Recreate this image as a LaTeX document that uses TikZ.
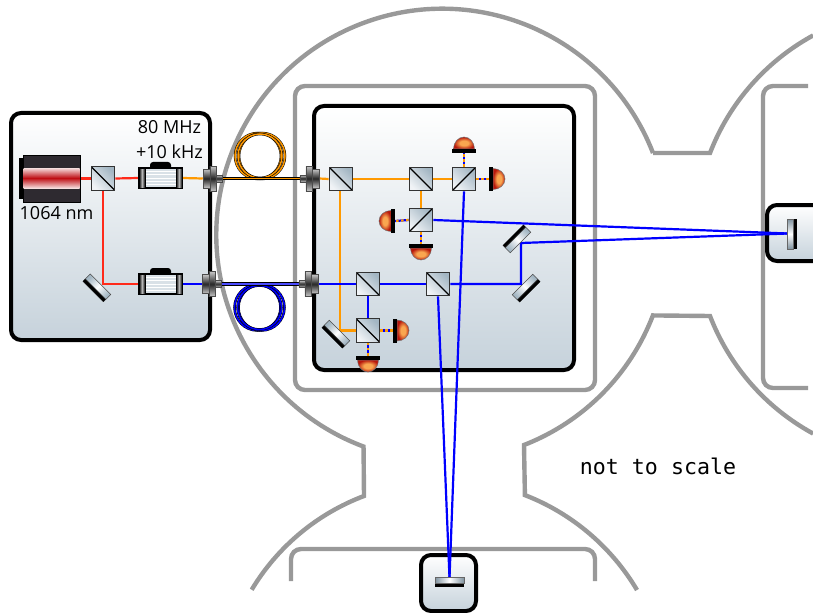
\documentclass[tikz,border=0pt]{standalone}
\usepackage{fontspec}
\setmainfont{Open Sans}
\newfontfamily\monofam{DejaVu Sans Mono}
\usetikzlibrary{calc}
\pgfdeclarelayer{backlayer}
\pgfdeclarelayer{beamlayer}
\pgfsetlayers{backlayer,beamlayer,main}
\def\pxu{*0.75pt}
\definecolor{vac}{HTML}{999999}
\definecolor{boxlow}{HTML}{C6D2DB}
\definecolor{cubelow}{HTML}{F0F3F6}
\definecolor{cubehigh}{HTML}{A3B6C3}
\definecolor{glassend}{HTML}{7F929F}
\definecolor{beamred}{HTML}{FF2A1A}
\definecolor{beamorange}{HTML}{FF9900}
\definecolor{beamblue}{HTML}{0000FF}
\definecolor{bodydark}{HTML}{2E2A30}
\definecolor{laserred}{HTML}{BE0E14}
\definecolor{laserpale}{HTML}{F6DEDE}
\definecolor{domein}{HTML}{F9A650}
\definecolor{domeout}{HTML}{B8180C}
\pgfdeclareradialshading{domeshade}{\pgfpoint{0bp}{0bp}}{
  color(0bp)=(domein); color(10bp)=(domein); color(25bp)=(domeout); color(50bp)=(domeout)}
\tikzset{
  vacline/.style={draw=vac,line width=4.4\pxu},
  panel/.style={draw=black,line width=4\pxu,rounded corners=10\pxu,top color=white,bottom color=boxlow,inner sep=0pt},
  cubeA/.style={draw=black!80,line width=1.2\pxu,minimum size=23.5\pxu,inner sep=0pt,top color=cubelow,bottom color=cubehigh,shading angle=135,
    path picture={\draw[black,line width=1.1\pxu] (path picture bounding box.north west)--(path picture bounding box.south east);}},
  cubeB/.style={draw=black!80,line width=1.2\pxu,minimum size=23.5\pxu,inner sep=0pt,top color=cubelow,bottom color=cubehigh,shading angle=135,
    path picture={\draw[black,line width=1.1\pxu] (path picture bounding box.south west)--(path picture bounding box.north east);}},
  glass/.style={draw=black!70,line width=.6\pxu,minimum width=29\pxu,minimum height=7\pxu,inner sep=0pt,top color=cubehigh,bottom color=cubehigh,middle color=white},
  mirrorback/.style={fill=black,draw=black,line width=.2\pxu,minimum width=29\pxu,minimum height=3\pxu,inner sep=0pt,anchor=north},
  beamR/.style={draw=beamred,line width=2.2\pxu},
  beamO/.style={draw=beamorange,line width=2.2\pxu},
  beamB/.style={draw=beamblue,line width=2.2\pxu},
  beamduo/.style={draw=beamblue,line width=2.2\pxu,postaction={draw=beamorange,line width=2.2\pxu,dash pattern=on 1.9pt off 1.9pt}},
  aombody/.style={draw=black,line width=1.5\pxu,minimum width=43\pxu,minimum height=20\pxu,inner sep=0pt,fill=cubelow!70!cubehigh,
    path picture={\foreach \k in {0.18,0.34,0.5,0.66,0.82}{\draw[white,line width=.9\pxu] ($(path picture bounding box.south west)!\k!(path picture bounding box.north west)$)--($(path picture bounding box.south east)!\k!(path picture bounding box.north east)$);}}},
  aomend/.style={draw=black,line width=.8\pxu,minimum width=6\pxu,minimum height=20\pxu,inner sep=0pt,left color=black,right color=black,middle color=black!25},
  aomcap/.style={fill=black,rounded corners=3\pxu,minimum width=21\pxu,minimum height=10\pxu,inner sep=0pt},
  plate/.style={draw=black!70,line width=.5\pxu,inner sep=0pt,top color=black!22,bottom color=black!22,middle color=black!85},
  fibrecase/.style={draw=black,line width=3.6\pxu},
  label/.style={inner sep=0pt,anchor=base,font=\fontsize{13.5pt}{15pt}\selectfont},
  pics/detector/.style={code={
    \path[shade,shading=domeshade,draw=black!55,line width=.5\pxu] (-10.5,-4) arc[start angle=180,end angle=360,x radius=10.5,y radius=12] -- cycle;
    \fill[black] (-12,-4) rectangle (12,0);
    \coordinate (-in) at (0,0);
  }}
}
\newcommand{\coupler}[4]{% name, x of outer plate, y, direction
  \node[plate,minimum width=7\pxu,minimum height=19\pxu] (#1a) at (#2,#3) {};
  \node[plate,minimum width=6.5\pxu,minimum height=25\pxu] (#1b) at (#2+#4*6.5,#3) {};
  \node[plate,minimum width=6.5\pxu,minimum height=7\pxu] (#1) at (#2+#4*12.5,#3) {};
}
\newcommand{\mirror}[5]{% name, x, y, rotation, shading angle
  \node[glass,rotate=#4,shading angle=#5] (#1) at (#2,#3) {};
  \node[mirrorback,rotate=#4] at (#1.south) {};
}
\newcommand{\aom}[3]{% name, x, y
  \node[aomcap] (#1cap) at (#2,#3-11) {};
  \node[aombody] (#1) at (#2,#3) {};
  \node[aomend] at (#2-18.5,#3) {};
  \node[aomend] at (#2+18.5,#3) {};
}
\begin{document}
\begin{tikzpicture}[x=0.75pt,y=-0.75pt]
\useasboundingbox (0,0) rectangle (813,613);
\begin{pgfonlayer}{backlayer}
  % vacuum outline
  \draw[vacline,line join=miter] (653,153) arc[start angle=-21.2,end angle=-249.6,radius=226] -- (364,496)
     arc[start angle=-110.7,end angle=-149,radius=223];
  \draw[vacline] (637,590) arc[start angle=-30.7,end angle=-68.8,radius=225] -- (524,445)
     arc[start angle=68.7,end angle=21,radius=226] -- (710,316)
     arc[start angle=158.9,end angle=118.6,radius=227];
  \draw[vacline] (653,153) -- (710,153) arc[start angle=-158.9,end angle=-118.6,radius=227];
  \draw[vacline,rounded corners=10\pxu] (295,86) rectangle (595,390);
  \draw[vacline,rounded corners=10\pxu] (808,86) -- (763,86) -- (763,388) -- (808,388);
  \draw[vacline,rounded corners=10\pxu] (291,581) -- (291,549) -- (595,549) -- (595,581);
  % panels
  \node[panel,minimum width=199\pxu,minimum height=227\pxu] (source) at (110.5,226.5) {};
  \node[panel,minimum width=260\pxu,minimum height=264\pxu] (bench) at (444,238) {};
  \node[panel,minimum width=55\pxu,minimum height=56\pxu] (endbottom) at (448.5,583) {};
  \node[panel,minimum width=60\pxu,minimum height=56\pxu] (endright) at (797,233) {};
\end{pgfonlayer}

% laser
\node[fill=black,minimum width=4\pxu,minimum height=41\pxu,inner sep=0pt] (laserback) at (21,178.5) {};
\node[fill=bodydark,draw=black,line width=.6\pxu,minimum width=57\pxu,minimum height=47\pxu,inner sep=0pt] (laser) at (51.5,178.5) {};
\node[top color=laserpale,bottom color=laserpale,middle color=laserred,minimum width=56\pxu,minimum height=20\pxu,inner sep=0pt] (laserband) at (51.5,178) {};

% source bench components
\node[cubeA] (bsA) at (103,178.5) {};
\aom{aomA}{160.5}{178}
\aom{aomB}{160.5}{284}
\mirror{foldA}{98}{286.7}{-45}{45}
\coordinate (foldAhit) at (103,284);

% couplers
\coupler{cplAL}{206.5}{178.5}{1}
\coupler{cplAR}{315.5}{178.5}{-1}
\coupler{cplBL}{205.5}{284}{1}
\coupler{cplBR}{314.5}{284}{-1}

% bench components
\node[cubeA] (cA) at (341,179) {};
\node[cubeA] (cB) at (421,179) {};
\node[cubeB] (cC) at (464,179) {};
\node[cubeB] (cD) at (421,220) {};
\node[cubeA] (cE) at (368,284) {};
\node[cubeA] (cF) at (438,284) {};
\node[cubeA] (cG) at (368,330.5) {};
\mirror{mA}{518}{240}{225}{135}
\mirror{mB}{525}{287}{45}{135}
\mirror{mC}{337}{333}{-45}{45}
\coordinate (mAhit) at (521,243);
\coordinate (mBhit) at (521,284);
\coordinate (mChit) at (340,330.5);

% detectors
\pic (dTop) at (464,153) {detector};
\pic[rotate=-90] (dRight) at (489,179) {detector};
\pic[rotate=90] (dLeft) at (395,221) {detector};
\pic[rotate=180] (dLow) at (421,244) {detector};
\pic[rotate=-90] (dGr) at (393,330.5) {detector};
\pic[rotate=180] (dGb) at (368,356) {detector};

% end mirrors
\node[fill=black,minimum width=29\pxu,minimum height=4\pxu,inner sep=0pt] (eBback) at (449.5,585) {};
\node[left color=glassend,right color=glassend,middle color=white,draw=black!60,line width=.5\pxu,minimum width=29\pxu,minimum height=6\pxu,inner sep=0pt] (eB) at (449.5,580) {};
\coordinate (eBhit) at (449.5,578);
\node[fill=black,minimum width=4\pxu,minimum height=30\pxu,inner sep=0pt] (eRback) at (795,234) {};
\node[top color=glassend,bottom color=glassend,middle color=white,draw=black!60,line width=.5\pxu,minimum width=6\pxu,minimum height=30\pxu,inner sep=0pt] (eR) at (790,234) {};
\coordinate (eRhit) at (788,233.5);

\begin{pgfonlayer}{beamlayer}
  % fibre coils
  \foreach \cx/\cy/\cr in {258/156/23,262/156/23,260/156/22}{
    \draw[black,line width=2.5\pxu] (\cx,\cy) circle[radius=\cr];
    \draw[beamorange,line width=1.5\pxu] (\cx,\cy) circle[radius=\cr];
  }
  \foreach \cx/\cy/\cr in {257.5/307.5/23,261.5/307.5/23,259.5/307.5/22}{
    \draw[black,line width=2.5\pxu] (\cx,\cy) circle[radius=\cr];
    \draw[beamblue,line width=1.5\pxu] (\cx,\cy) circle[radius=\cr];
  }
  % fibres
  \draw[fibrecase] (cplAL.east) -- (cplAR.west);
  \draw[beamorange,line width=1.5\pxu] (cplAL.east) -- (cplAR.west);
  \draw[fibrecase] (cplBL.east) -- (cplBR.west);
  \draw[beamblue!70!white,line width=1.3\pxu] (cplBL.east) -- (cplBR.west);
  % source beams
  \draw[beamR] (laser.east) -- (bsA.west);
  \draw[beamR] (bsA.east) -- (aomA.west);
  \draw[beamR] (bsA.south) -- (foldAhit) -- (aomB.west);
  \draw[beamO] (aomA.east) -- (cplALa.west);
  \draw[beamB] (aomB.east) -- (cplBLa.west);
  % bench beams
  \draw[beamO] (cplARa.east) -- (cA.west);
  \draw[beamO] (cA.east) -- (cB.west);
  \draw[beamO] (cB.east) -- (cC.west);
  \draw[beamO] (cB.south) -- (cD.north);
  \draw[beamO] ($(cA.south)+(-1,0)$) -- (mChit) -- (cG.west);
  \draw[beamB] (cplBRa.east) -- (cE.west);
  \draw[beamB] (cE.east) -- (cF.west);
  \draw[beamB] (cF.east) -- (mBhit) -- (mAhit) -- (eRhit);
  \draw[beamB] (cE.south) -- (cG.north);
  \draw[beamB] (cD.east) -- (eRhit);
  \draw[beamB] (cC.south) -- (eBhit);
  \draw[beamB] (cF.south) -- (eBhit);
  % detector feeds
  \draw[beamduo] (cC.north) -- (dTop-in);
  \draw[beamduo] (cC.east) -- (dRight-in);
  \draw[beamduo] (cD.west) -- (dLeft-in);
  \draw[beamduo] (cD.south) -- (dLow-in);
  \draw[beamduo] (cG.east) -- (dGr-in);
  \draw[beamduo] (cG.south) -- (dGb-in);
\end{pgfonlayer}

% labels
\node[label] (tfreqa) at (169.5,134) {80 MHz};
\node[label] (tfreqb) at (169.5,159) {+10 kHz};
\node[label] (twave) at (56.5,219) {1064 nm};
\node[inner sep=0pt,anchor=base,font=\monofam\fontsize{16.2pt}{18pt}\selectfont] (tscale) at (658,474) {not to scale};
\end{tikzpicture}
\end{document}
